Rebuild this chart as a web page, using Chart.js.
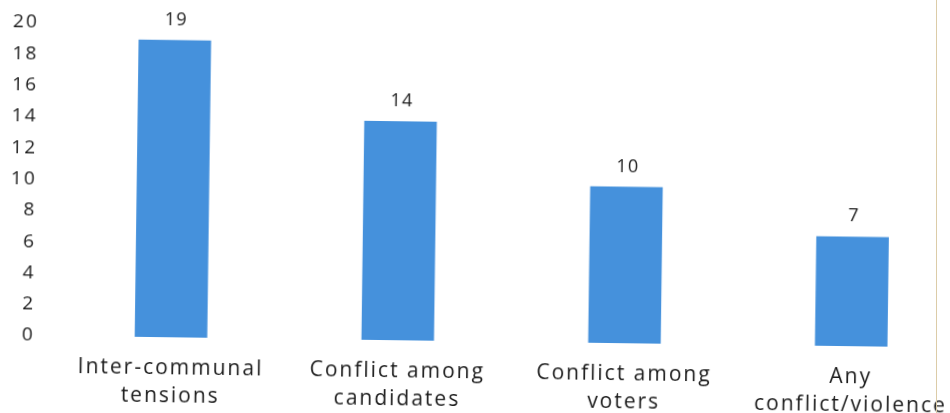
<!DOCTYPE html>
<html>
<head>
<meta charset="utf-8">
<title>Conflict types</title>
<script src="https://cdn.jsdelivr.net/npm/chart.js@4.4.1/dist/chart.umd.min.js"></script>
<style>
    html, body { margin: 0; padding: 0; background: #fff; overflow: hidden; width: 950px; height: 413px; }
    #wrap {
        position: absolute; left: -1px; top: 0; width: 975px; height: 413px;
        transform: rotate(0.75deg); transform-origin: 0 0;
    }
    #edge { position: absolute; left: 936px; top: 0; width: 0; height: 413px; border-left: 1.5px solid #dccca8; }
</style>
</head>
<body>
<div id="wrap"><canvas id="conflictChart"></canvas></div>
<div id="edge"></div>
<script>
// Категории и значения
const categories = [
    ["Inter-communal", "tensions"],
    ["Conflict among", "candidates"],
    ["Conflict among", "voters"],
    ["Any", "conflict/violence"]
];
const counts = [19, 14, 10, 7];
const yTicks = [0, 2, 4, 6, 8, 10, 12, 14, 16, 18, 20];

const FONT = "'Open Sans', 'Lato', sans-serif";

// Разрядка букв для подписей осей
const spacing = {
    id: "spacing",
    beforeLayout(chart) { chart.ctx.letterSpacing = "2px"; },
    beforeDraw(chart) { chart.ctx.letterSpacing = "2px"; }
};

// Подписи значений над столбцами
const valueLabels = {
    id: "valueLabels",
    afterDatasetsDraw(chart) {
        const { ctx } = chart;
        const meta = chart.getDatasetMeta(0);
        ctx.save();
        ctx.letterSpacing = "1px";
        ctx.font = "18px " + FONT;
        ctx.fillStyle = "#1a1a1a";
        ctx.textAlign = "center";
        ctx.textBaseline = "alphabetic";
        meta.data.forEach((bar, i) => {
            ctx.fillText(String(counts[i]), bar.x + 1, bar.y - 15);
        });
        ctx.restore();
    }
};

const ctx = document.getElementById("conflictChart").getContext("2d");
new Chart(ctx, {
    type: "bar",
    data: {
        labels: categories,
        datasets: [{
            data: counts,
            backgroundColor: "#4591dc",
            barPercentage: 0.64,
            categoryPercentage: 0.5
        }]
    },
    options: {
        responsive: true,
        maintainAspectRatio: false,
        animation: false,
        layout: { padding: { top: 22, left: 0, right: 5, bottom: 0 } },
        scales: {
            x: {
                grid: { display: false, drawTicks: false },
                border: { display: false },
                ticks: {
                    color: "#1a1a1a",
                    font: { family: FONT, size: 21, lineHeight: 1.33 },
                    padding: 17,
                    maxRotation: 0,
                    autoSkip: false
                },
                afterFit: axis => { axis.height = 78; }
            },
            y: {
                min: 0,
                max: 20,
                afterBuildTicks: axis => { axis.ticks = yTicks.map(v => ({ value: v })); },
                afterFit: axis => {
                    axis.width = 63;
                    axis.paddingTop = 0;
                    axis.paddingBottom = 0;
                },
                grid: { display: false, drawTicks: false },
                border: { display: false },
                ticks: {
                    color: "#1a1a1a",
                    font: { family: FONT, size: 19 },
                    padding: 23
                }
            }
        },
        plugins: {
            legend: { display: false },
            tooltip: { enabled: false }
        }
    },
    plugins: [spacing, valueLabels]
});
</script>
</body>
</html>
